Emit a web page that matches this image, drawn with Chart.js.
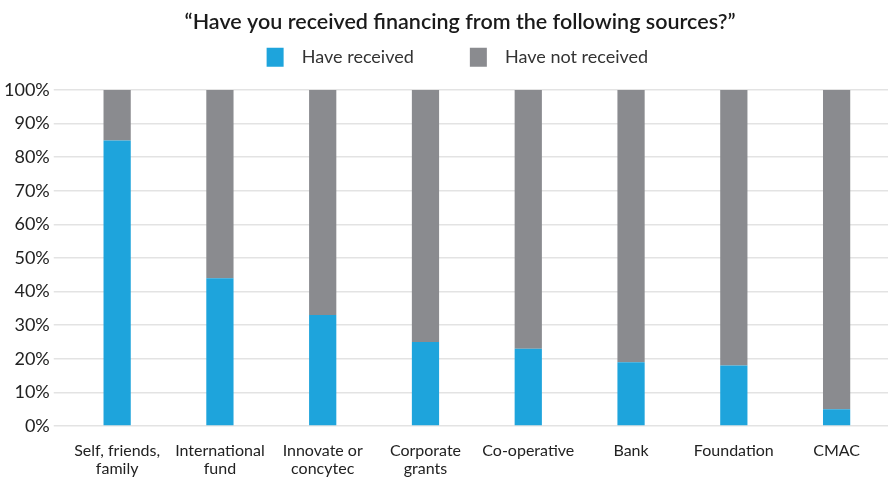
<!DOCTYPE html>
<html><head><meta charset="utf-8">
<script src="https://cdn.jsdelivr.net/npm/chart.js@4"></script>
<style>html,body{margin:0;padding:0;background:#fff}#wrap{width:896px;height:480px}</style>
</head><body><div id="wrap"><canvas id="c" width="896" height="480"></canvas></div>
<script>
const categories = [["Self, friends,","family"],["International","fund"],["Innovate or","concytec"],["Corporate","grants"],"Co-operative","Bank","Foundation","CMAC"];
const haveReceived = [85, 44, 33, 25, 23, 19, 18, 5];
const haveNotReceived = [15, 56, 67, 75, 77, 81, 82, 95];
const yTicks = [0,10,20,30,40,50,60,70,80,90,100];

const FONT = "Lato, 'Open Sans', sans-serif";
new Chart(document.getElementById('c'), {
  type: 'bar',
  data: {
    labels: categories,
    datasets: [
      {label: 'Have received', data: haveReceived, backgroundColor: '#1ea4dc', borderWidth: 0},
      {label: 'Have not received', data: haveNotReceived, backgroundColor: '#8a8b8f', borderWidth: 0}
    ]
  },
  options: {
    responsive: false,
    animation: false,
    devicePixelRatio: 1,
    layout: {padding: {left: 0, right: 8, top: 0, bottom: 0}},
    datasets: {bar: {categoryPercentage: 1, barPercentage: 0.265}},
    plugins: {
      title: {display: true, text: '      \u201cHave you received financing from the following sources?\u201d',
        color: '#1a1a1a', font: {family: FONT, size: 21.5, weight: '600'}, padding: {top: 9, bottom: 3}},
      subtitle: {display: true, text: ' ', weight: 500, font: {size: 1}, padding: {top: 6, bottom: 6}},
      legend: {display: true, position: 'top',
        labels: {color: '#333', font: {family: FONT, size: 18}, boxWidth: 17, boxHeight: 19, padding: 10,
          generateLabels: (chart) => {
            const items = Chart.defaults.plugins.legend.labels.generateLabels(chart).map((l, i) => ({...l, text: '  ' + l.text + (i === 0 ? '          ' : '  '), lineWidth: 0}));
            items.unshift({text: '', fillStyle: 'rgba(0,0,0,0)', strokeStyle: 'rgba(0,0,0,0)', lineWidth: 0, hidden: false});
            return items;
          }}},
      tooltip: {enabled: false}
    },
    scales: {
      x: {stacked: true,
        afterFit: (axis) => { axis.height = 54; },
        grid: {display: false, drawTicks: false},
        border: {display: false},
        ticks: {color: '#222', font: {family: FONT, size: 16, lineHeight: 1.1}, padding: 16, maxRotation: 0, autoSkip: false}
      },
      y: {stacked: true, min: 0, max: 100,
        afterBuildTicks: (axis) => { axis.ticks = yTicks.map(v => ({value: v})); },
        grid: {color: '#e3e3e3', lineWidth: 1.5, tickLength: 12},
        border: {display: false},
        ticks: {color: '#222', font: {family: FONT, size: 18}, padding: 4, callback: v => v + '%'}
      }
    }
  }
});
</script></body></html>
